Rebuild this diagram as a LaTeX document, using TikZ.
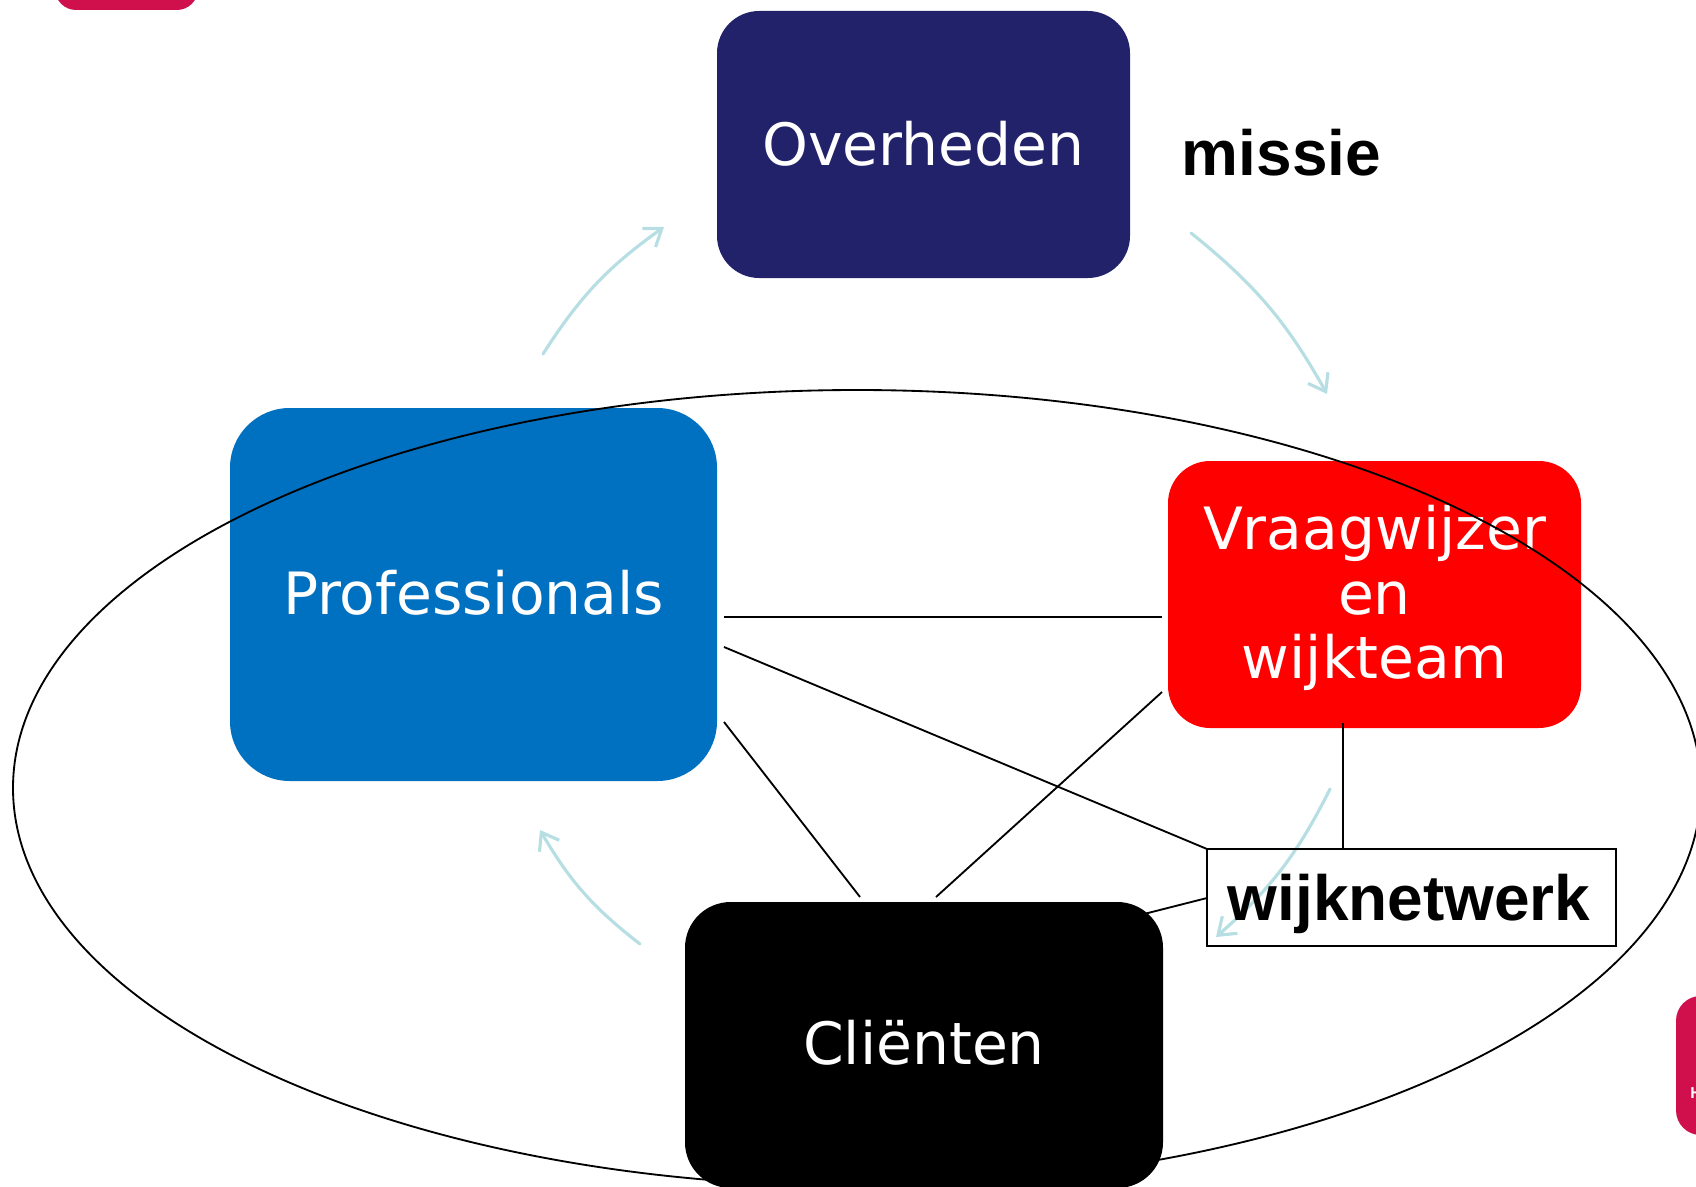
\documentclass[tikz,border=0pt]{standalone}
\usepackage{fontspec}
\setmainfont{DejaVu Sans}
\newfontfamily\boldsans{Liberation Sans Bold}
\usetikzlibrary{arrows.meta}
\definecolor{navyb}{HTML}{22226A}
\definecolor{blueb}{HTML}{0070C0}
\definecolor{pinkb}{HTML}{D0104C}
\definecolor{arrowc}{HTML}{B7DFE3}
\tikzset{
  x=0.02cm,y=-0.02cm,
  actor/.style={text=white,inner sep=0pt,align=center,font=\fontsize{33.2}{36.8}\selectfont},
  link/.style={draw=black,line width=1.05pt},
  flow/.style={draw=arrowc,line width=1.8pt,line cap=round,-{Straight Barb[length=9pt,width=13pt,line width=1.8pt]}},
  label/.style={inner sep=0pt,font=\boldsans\fontsize{36.4}{40}\selectfont}
}
\begin{document}
\begin{tikzpicture}
\useasboundingbox (0,0) rectangle (1696,1186);
\clip (0,0) rectangle (1696,1186);
% decorative slide fragments
\fill[pinkb,rounded corners=12pt] (55,-30) rectangle (198,10);
\fill[pinkb,rounded corners=14pt] (1676,996) rectangle (1760,1135);
\node[text=white,inner sep=0pt,font=\boldsans\fontsize{9}{10}\selectfont,anchor=west] (hfrag) at (1690,1093) {H};
% boxes
\node[minimum width=413*0.02cm,minimum height=267*0.02cm,fill=navyb,rounded corners=24pt,inner sep=0pt] (over) at (923.5,144.5) {};
\node[actor] (overt) at (923.5,143.5) {Overheden};
\node[minimum width=487*0.02cm,minimum height=373*0.02cm,fill=blueb,rounded corners=34pt,inner sep=0pt] (prof) at (473.5,594.5) {};
\node[actor] (proft) at (473.5,593) {Professionals};
\node[minimum width=413*0.02cm,minimum height=267*0.02cm,fill=red,rounded corners=24pt,inner sep=0pt] (vraag) at (1374.5,594.5) {};
\node[actor] (vraagt) at (1374.5,598) {Vraagwijzer\\en\\wijkteam};
% ellipse
\draw[link] (857,788) ellipse [x radius=844,y radius=398];
\node[minimum width=478*0.02cm,minimum height=286*0.02cm,fill=black,rounded corners=26pt,inner sep=0pt] (clien) at (924,1045) {};
\node[actor] (cliet) at (924,1043) {Cliënten};
% flows
\coordinate (f1a) at (543,354); \coordinate (f1b) at (664,227);
\coordinate (f2a) at (1191,233); \coordinate (f2b) at (1327,394);
\coordinate (f3a) at (1330,789); \coordinate (f3b) at (1216,937);
\coordinate (f4a) at (640,944); \coordinate (f4b) at (540,830);
\draw[flow] (f1a) to[bend left=11] (f1b);
\draw[flow] (f2a) to[bend left=11] (f2b);
\draw[flow] (f3a) to[bend left=11] (f3b);
\draw[flow] (f4a) to[bend left=11] (f4b);
% wijknetwerk
\node[draw=black,line width=1.05pt,inner sep=0pt,minimum width=409*0.02cm,minimum height=97*0.02cm] (wijkbox) at (1411.5,897.5) {};
\node[label] (wijk) at (1409,904) {wijknetwerk};
\node[label,anchor=west] (missie) at (1181.5,153) {missie};
% connectors
\coordinate (a1) at (724,617); \coordinate (a2) at (1162,617);
\coordinate (b1) at (724,647); \coordinate (b2) at (1207,849);
\coordinate (c1) at (724,722); \coordinate (c2) at (860,897);
\coordinate (d1) at (1162,692); \coordinate (d2) at (936,897);
\coordinate (e1) at (1343,723); \coordinate (e2) at (1343,849);
\coordinate (g1) at (1144,914); \coordinate (g2) at (1207,898);
\draw[link] (a1) -- (a2);
\draw[link] (b1) -- (b2);
\draw[link] (c1) -- (c2);
\draw[link] (d1) -- (d2);
\draw[link] (e1) -- (e2);
\draw[link] (g1) -- (g2);
\end{tikzpicture}
\end{document}
